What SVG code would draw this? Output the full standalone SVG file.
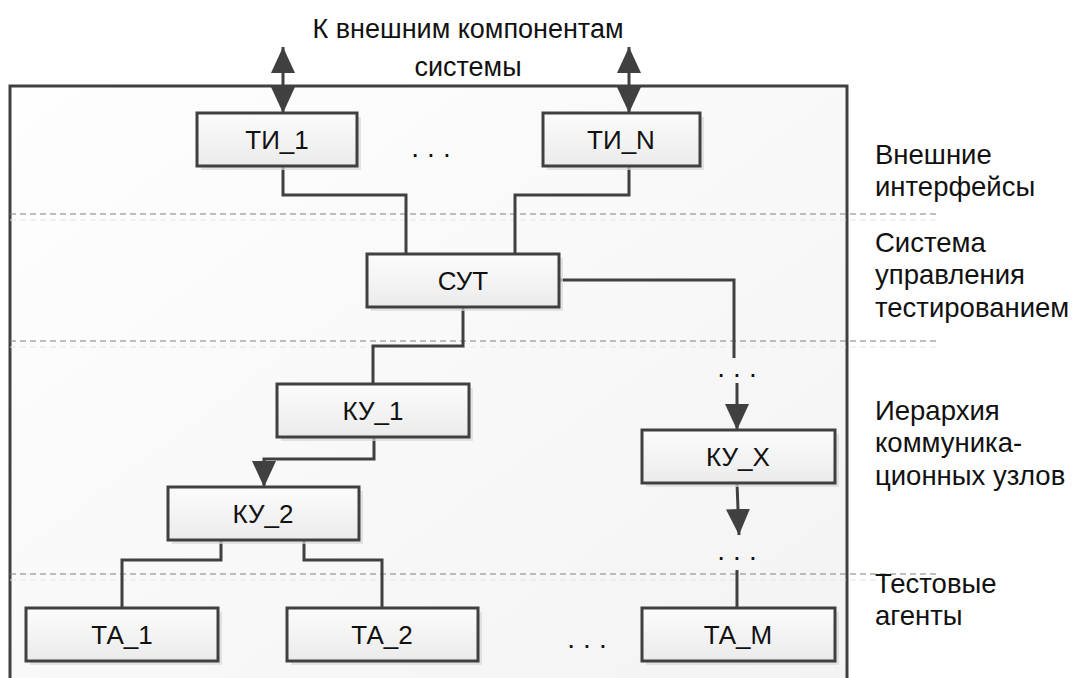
<svg xmlns="http://www.w3.org/2000/svg" width="1077" height="678" viewBox="0 0 1077 678">
<style>
  text { font-family: "Liberation Sans", "DejaVu Sans", sans-serif; fill: #111; }
  .lbl { font-size: 26px; text-anchor: middle; }
  .ttl { font-size: 27px; text-anchor: middle; }
  .side { font-size: 27.5px; }
  .box { fill: url(#boxg); stroke: #404040; stroke-width: 3; }
  .shadow { fill: #d9d9d9; opacity: 0.7; }
  .wire { fill: none; stroke: #404040; stroke-width: 3; }
  .dash { stroke: #808080; stroke-width: 1.2; stroke-dasharray: 6 4; }
  .dash2 { stroke: #e6e6e6; stroke-width: 1.2; stroke-dasharray: 6 4; }
  .dots { font-size: 28px; text-anchor: middle; letter-spacing: 8px; }
</style>
<defs>
  <linearGradient id="boxg" x1="0" y1="0" x2="0" y2="1">
    <stop offset="0" stop-color="#fcfcfc"/>
    <stop offset="1" stop-color="#ebebeb"/>
  </linearGradient>
  <linearGradient id="bg" x1="0" y1="0" x2="1" y2="1">
    <stop offset="0" stop-color="#fefefe"/>
    <stop offset="1" stop-color="#f3f3f3"/>
  </linearGradient>
  <marker id="arr" viewBox="0 0 26 24" refX="26" refY="12" markerWidth="26" markerHeight="24" orient="auto" markerUnits="userSpaceOnUse">
    <path d="M0,0 L26,12 L0,24 Z" fill="#404040"/>
  </marker>
  <marker id="arrs" viewBox="0 0 26 24" refX="26" refY="12" markerWidth="26" markerHeight="24" orient="auto-start-reverse" markerUnits="userSpaceOnUse">
    <path d="M0,0 L26,12 L0,24 Z" fill="#404040"/>
  </marker>
</defs>

<rect x="0" y="0" width="1077" height="678" fill="#ffffff"/>

<g id="frame">
  <rect x="10" y="86" width="837" height="610" fill="url(#bg)" stroke="#404040" stroke-width="3"/>
</g>

<g id="layers">
  <line class="dash2" x1="10" y1="220" x2="938" y2="220"/>
  <line class="dash2" x1="10" y1="347" x2="938" y2="347"/>
  <line class="dash2" x1="10" y1="580" x2="938" y2="580"/>
  <line class="dash" x1="10" y1="214" x2="938" y2="214"/>
  <line class="dash" x1="10" y1="341" x2="938" y2="341"/>
  <line class="dash" x1="10" y1="574" x2="938" y2="574"/>
</g>

<g id="title">
  <text class="ttl" x="468" y="38">К внешним компонентам</text>
  <text class="ttl" x="468" y="76">системы</text>
</g>

<g id="side-labels">
  <text class="side" x="875" y="164">Внешние</text>
  <text class="side" x="875" y="196">интерфейсы</text>
  <text class="side" x="875" y="252">Система</text>
  <text class="side" x="875" y="284">управления</text>
  <text class="side" x="875" y="317">тестированием</text>
  <text class="side" x="875" y="420">Иерархия</text>
  <text class="side" x="875" y="452">коммуника-</text>
  <text class="side" x="875" y="485">ционных узлов</text>
  <text class="side" x="875" y="593">Тестовые</text>
  <text class="side" x="875" y="625">агенты</text>
</g>

<g id="connectors">
  <line class="wire" x1="283" y1="47" x2="283" y2="113" marker-start="url(#arrs)" marker-end="url(#arr)"/>
  <line class="wire" x1="629" y1="47" x2="629" y2="113" marker-start="url(#arrs)" marker-end="url(#arr)"/>
  <polyline class="wire" points="283,166 283,195 406,195 406,254"/>
  <polyline class="wire" points="629,166 629,195 515,195 515,254"/>
  <polyline class="wire" points="559,280 734,280 734,358"/>
  <line class="wire" x1="737" y1="383" x2="737" y2="430" marker-end="url(#arr)"/>
  <polyline class="wire" points="463,307 463,346 373,346 373,384"/>
  <polyline class="wire" points="374,437 374,459 264,459 264,487" marker-end="url(#arr)"/>
  <line class="wire" x1="737" y1="483" x2="739" y2="535" marker-end="url(#arr)"/>
  <line class="wire" x1="737" y1="570" x2="737" y2="608"/>
  <polyline class="wire" points="221,540 221,560 122,560 122,608"/>
  <polyline class="wire" points="304,540 304,560 382,560 382,608"/>
</g>

<g id="ellipses">
  <text class="dots" x="435" y="157">...</text>
  <text class="dots" x="741" y="377">...</text>
  <text class="dots" x="741" y="560">...</text>
  <text class="dots" x="591" y="648">...</text>
</g>

<g id="TI_1">
  <rect class="shadow" x="201" y="117" width="160" height="53"/>
  <rect class="box" x="197" y="113" width="160" height="53"/>
  <text class="lbl" x="277" y="149">ТИ_1</text>
</g>
<g id="TI_N">
  <rect class="shadow" x="547" y="117" width="157" height="53"/>
  <rect class="box" x="543" y="113" width="157" height="53"/>
  <text class="lbl" x="621" y="149">ТИ_N</text>
</g>
<g id="SUT">
  <rect class="shadow" x="371" y="258" width="192" height="53"/>
  <rect class="box" x="367" y="254" width="192" height="53"/>
  <text class="lbl" x="463" y="290">СУТ</text>
</g>
<g id="KU_1">
  <rect class="shadow" x="281" y="388" width="192" height="53"/>
  <rect class="box" x="277" y="384" width="192" height="53"/>
  <text class="lbl" x="373" y="420">КУ_1</text>
</g>
<g id="KU_2">
  <rect class="shadow" x="172" y="491" width="191" height="53"/>
  <rect class="box" x="168" y="487" width="191" height="53"/>
  <text class="lbl" x="263" y="523">КУ_2</text>
</g>
<g id="KU_X">
  <rect class="shadow" x="646" y="434" width="193" height="53"/>
  <rect class="box" x="642" y="430" width="193" height="53"/>
  <text class="lbl" x="738" y="466">КУ_X</text>
</g>
<g id="TA_1">
  <rect class="shadow" x="30" y="612" width="192" height="53"/>
  <rect class="box" x="26" y="608" width="192" height="53"/>
  <text class="lbl" x="122" y="644">ТА_1</text>
</g>
<g id="TA_2">
  <rect class="shadow" x="291" y="612" width="191" height="53"/>
  <rect class="box" x="287" y="608" width="191" height="53"/>
  <text class="lbl" x="382" y="644">ТА_2</text>
</g>
<g id="TA_M">
  <rect class="shadow" x="646" y="612" width="193" height="53"/>
  <rect class="box" x="642" y="608" width="193" height="53"/>
  <text class="lbl" x="738" y="644">ТА_M</text>
</g>
</svg>
